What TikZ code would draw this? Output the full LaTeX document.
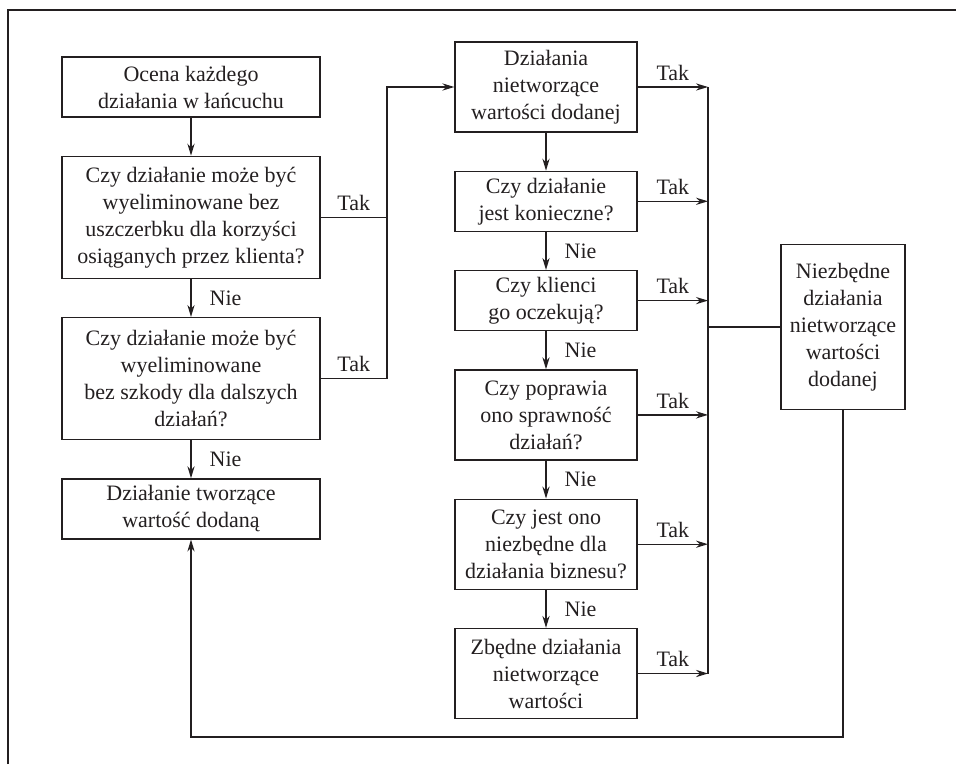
\documentclass[tikz,border=0pt]{standalone}
\usepackage{fontspec}
\setmainfont{Liberation Serif}
\usetikzlibrary{arrows.meta,positioning}
\definecolor{ink}{HTML}{231F20}
\tikzset{box/.style={draw=ink,line width=.65pt,align=center,text=ink,font=\fontsize{11}{13.5}\selectfont,inner sep=2pt},wide/.style={box,minimum width=129pt},narrow/.style={box,minimum width=91pt},flow/.style={-{Stealth[length=6pt,width=3.6pt]},line width=.65pt,draw=ink},link/.style={line width=.65pt,draw=ink},tag/.style={font=\fontsize{11}{13.5}\selectfont,text=ink,above,inner sep=3pt},nie/.style={tag,right,xshift=6pt}}

\begin{document}
\begin{tikzpicture}[x=.5pt,y=-.5pt,node distance=19pt]
\useasboundingbox (0,0) rectangle (956,764);
\draw[link,line width=.8pt] (8,764)--(8,10)--(956,10);
\node[wide,minimum height=30pt] (eval) at (191,87) {Ocena każdego\\działania w łańcuchu};
\node[wide,minimum height=61pt,below=of eval] (client) {Czy działanie może być\\wyeliminowane bez\\uszczerbku dla korzyści\\osiąganych przez klienta?};
\node[wide,minimum height=61pt,below=of client] (next) {Czy działanie może być\\wyeliminowane\\bez szkody dla dalszych\\działań?};
\node[wide,minimum height=30pt,below=of next] (added) {Działanie tworzące\\wartość dodaną};
\node[narrow,minimum height=45pt] (nonval) at (546,87) {Działania\\nietworzące\\wartości dodanej};
\node[narrow,minimum height=30pt,below=of nonval] (needed) {Czy działanie\\jest konieczne?};
\node[narrow,minimum height=30pt,below=of needed] (expect) {Czy klienci\\go oczekują?};
\node[narrow,minimum height=45pt,below=of expect] (effic) {Czy poprawia\\ono sprawność\\działań?};
\node[narrow,minimum height=45pt,below=of effic] (biz) {Czy jest ono\\niezbędne dla\\działania biznesu?};
\node[narrow,minimum height=45pt,below=of biz] (waste) {Zbędne działania\\nietworzące\\wartości};
\node[box,minimum width=62pt,minimum height=82.5pt] (essential) at (843,327) {Niezbędne\\działania\\nietworzące\\wartości\\dodanej};
\coordinate (jog) at (387,0);\coordinate (bus) at (708,0);\coordinate (loop) at (0,737);
\draw[flow] (eval)--(client);\draw[flow] (client)--node[nie]{Nie} (next);\draw[flow] (next)--node[nie]{Nie} (added);
\draw[link] (client.east)--node[tag]{Tak} (client.east -| jog);
\draw[flow] (next.east)--node[tag]{Tak} (next.east -| jog) |- (nonval.west);
\draw[flow] (nonval)--(needed);\draw[flow] (needed)--node[nie]{Nie} (expect);\draw[flow] (expect)--node[nie]{Nie} (effic);
\draw[flow] (effic)--node[nie]{Nie} (biz);\draw[flow] (biz)--node[nie]{Nie} (waste);
\foreach \n in {nonval,needed,expect,effic,biz,waste}
  \draw[flow] (\n.east)--node[tag]{Tak} (\n.east -| bus);
\draw[link] (nonval.east -| bus)--(waste.east -| bus);
\draw[link] (bus |- essential.west)--(essential.west);
\draw[flow] (essential.south) |- (loop -| added.south)--(added.south);
\end{tikzpicture}
\end{document}
